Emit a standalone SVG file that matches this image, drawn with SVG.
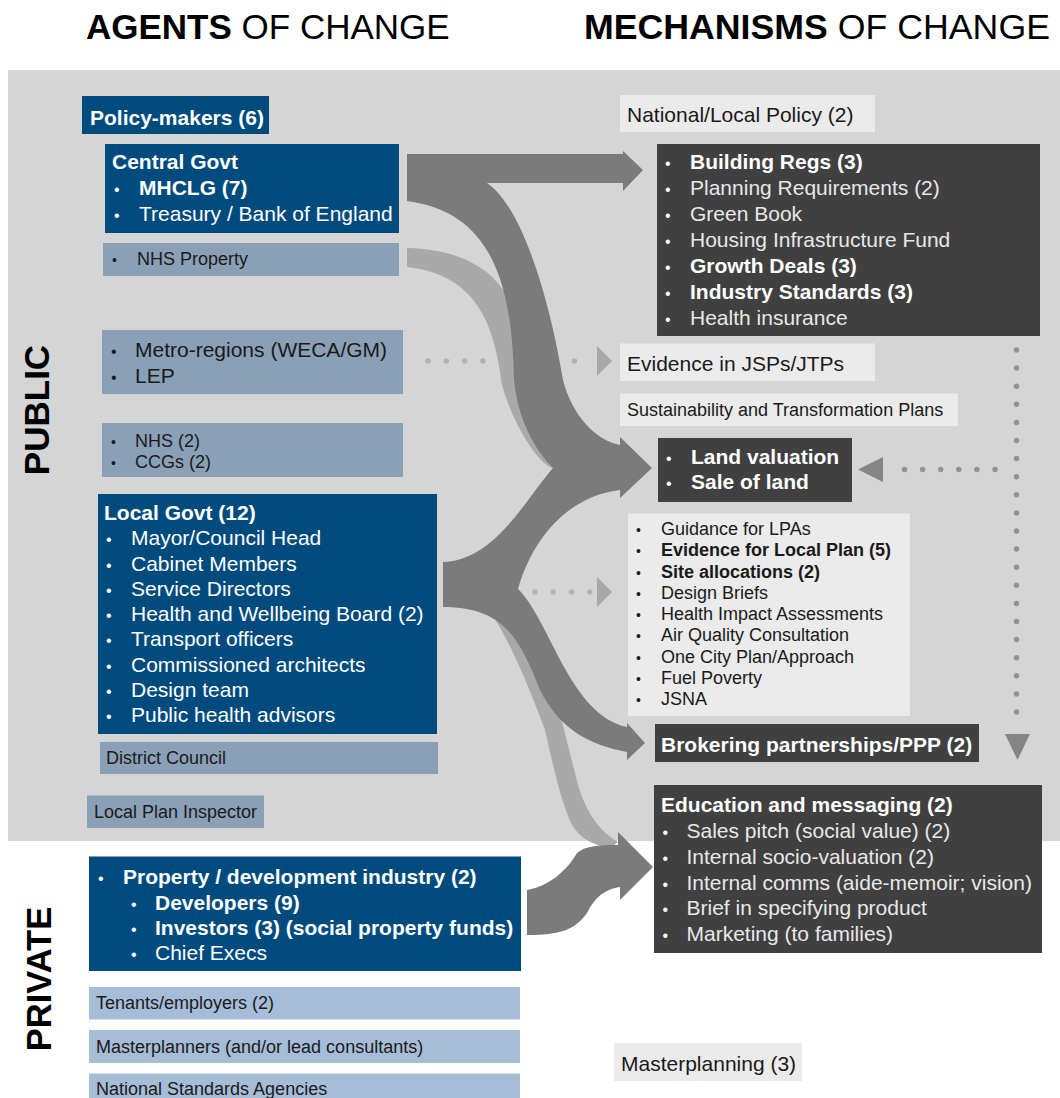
<svg xmlns="http://www.w3.org/2000/svg" width="1060" height="1098" viewBox="0 0 1060 1098">
<style>
text{font-family:"Liberation Sans",Arial,Helvetica,sans-serif}
.b{font-weight:bold}
.m{font-size:21px}
.s{font-size:18px}
.bm{font-size:16px}
.bs{font-size:14px}
.w{fill:#ffffff}
.lw{fill:#e8e8e8}
.k{fill:#1a1a1a}
.db{fill:#004b7d}
.pb{fill:#8aa0b7}
.pp{fill:#a6bdd7}
.lg{fill:#ebebeb}
.dk{fill:#404040}
.arr{fill:#7b7b7b}
.arl{fill:#a9a9a9}
.dotl{stroke:#b2b2b2;stroke-width:5.5;stroke-linecap:round;stroke-dasharray:0 18.3;fill:none}
.dotd{stroke:#939393;stroke-width:5.5;stroke-linecap:round;stroke-dasharray:0 18.1;fill:none}
.hl{fill:#a8a8a8}
.hd{fill:#858585}
</style>
<rect x="0" y="0" width="1060" height="1098" fill="#ffffff"/>
<rect x="8" y="70" width="1052" height="771" fill="#d5d5d5"/>
<text x="86" y="39" font-size="35" fill="#000"><tspan class="b">AGENTS</tspan> OF CHANGE</text>
<text x="584" y="39" font-size="35.7" fill="#000"><tspan class="b">MECHANISMS</tspan> OF CHANGE</text>
<text transform="translate(49,410) rotate(-90)" text-anchor="middle" font-size="35" class="b" fill="#000">PUBLIC</text>
<text transform="translate(51,979) rotate(-90)" text-anchor="middle" font-size="34.5" class="b" fill="#000">PRIVATE</text>

<g id="connectors">
  <line class="dotl" x1="428" y1="361" x2="590" y2="361"/>
  <polygon class="hl" points="597,346 612,361 597,376"/>
  <line class="dotl" x1="480" y1="592" x2="590" y2="592"/>
  <polygon class="hl" points="597,577 612,592 597,607"/>
  <line class="dotd" x1="1016.5" y1="350" x2="1016.5" y2="728"/>
  <polygon class="hd" points="1005,734 1030,734 1017.5,760"/>
  <line class="dotd" x1="995" y1="469.5" x2="887" y2="469.5"/>
  <polygon class="hd" points="858,469.5 883,457 883,482"/>
  <path class="arl" d="M407,248 C480,250 515,285 520,340 L560,440 L553,468 C540,465 515,430 502,385 C495,330 480,275 407,267 Z"/>
  <path class="arl" d="M490,612 C510,640 530,690 545,730 C552,760 560,800 572,825 C580,838 592,845 610,848 L618,842 C600,832 586,812 578,785 C568,745 555,690 530,610 Z"/>
  <path class="arr" d="M407,154 L623,154 L623,151 L643,170 L623,191 L623,183 L487,183 C520,205 548,290 563,380 C572,415 595,440 620,445 L620,437 L652,468 L620,498 L620,490 L575,480 L553,468 C535,450 518,420 514,380 C512,290 495,212 407,201 Z"/>
  <path class="arr" d="M443,562 C495,560 525,500 553,468 L620,470 L620,490 C575,495 535,530 518,589 C550,620 570,715 627,727 L627,723 L645,743 L627,760 L627,752 C590,745 560,730 540,690 C520,640 505,607 443,607 Z"/>
  <path class="arr" d="M527,890 C550,886 567,870 577,853 C585,846 597,845 618,845 L618,832 L653,867 L620,900 L620,887 C605,889 595,897 587,913 C575,930 560,935 527,935 Z"/>
</g>

<g id="policy-makers">
  <rect class="db" x="82" y="96" width="187" height="38"/>
  <text class="m b w" x="90" y="125">Policy-makers (6)</text>
</g>
<g id="central-govt">
  <rect class="db" x="105" y="144" width="294" height="89"/>
  <text class="m b w" x="112" y="169">Central Govt</text>
  <text class="bm w" x="114" y="195">•</text><text class="m b w" x="139" y="195">MHCLG (7)</text>
  <text class="bm w" x="114" y="221">•</text><text class="m w" x="139" y="221">Treasury / Bank of England</text>
</g>
<g id="nhs-property">
  <rect class="pb" x="103" y="243" width="296" height="33"/>
  <text class="bs k" x="112" y="265">•</text><text class="s k" x="137" y="265">NHS Property</text>
</g>
<g id="metro-regions">
  <rect class="pb" x="102" y="330" width="301" height="64"/>
  <text class="bm k" x="111" y="357">•</text><text class="m k" x="135" y="357">Metro-regions (WECA/GM)</text>
  <text class="bm k" x="111" y="383">•</text><text class="m k" x="135" y="383">LEP</text>
</g>
<g id="nhs-ccgs">
  <rect class="pb" x="102" y="423" width="301" height="54"/>
  <text class="bs k" x="111" y="447">•</text><text class="s k" x="135" y="447">NHS (2)</text>
  <text class="bs k" x="111" y="468">•</text><text class="s k" x="135" y="468">CCGs (2)</text>
</g>
<g id="local-govt">
  <rect class="db" x="98" y="494" width="339" height="240"/>
  <text class="m b w" x="104" y="520">Local Govt (12)</text>
  <text class="bm w" x="106" y="545.3">•</text><text class="m w" x="131" y="545.3">Mayor/Council Head</text>
  <text class="bm w" x="106" y="570.5">•</text><text class="m w" x="131" y="570.5">Cabinet Members</text>
  <text class="bm w" x="106" y="595.8">•</text><text class="m w" x="131" y="595.8">Service Directors</text>
  <text class="bm w" x="106" y="621">•</text><text class="m w" x="131" y="621">Health and Wellbeing Board (2)</text>
  <text class="bm w" x="106" y="646.3">•</text><text class="m w" x="131" y="646.3">Transport officers</text>
  <text class="bm w" x="106" y="671.5">•</text><text class="m w" x="131" y="671.5">Commissioned architects</text>
  <text class="bm w" x="106" y="696.8">•</text><text class="m w" x="131" y="696.8">Design team</text>
  <text class="bm w" x="106" y="722">•</text><text class="m w" x="131" y="722">Public health advisors</text>
</g>
<g id="district-council">
  <rect class="pb" x="100" y="742" width="338" height="32"/>
  <text class="s k" x="106" y="764">District Council</text>
</g>
<g id="local-plan-inspector">
  <rect class="pb" x="87" y="795.5" width="177" height="32.5"/>
  <text class="s k" x="94" y="818">Local Plan Inspector</text>
</g>
<g id="property-industry">
  <rect class="db" x="89" y="856.5" width="432" height="114.5"/>
  <text class="bm w" x="98" y="883.5">•</text><text class="m b w" x="123" y="883.5">Property / development industry (2)</text>
  <text class="bm w" x="131" y="909.5">•</text><text class="m b w" x="155" y="909.5">Developers (9)</text>
  <text class="bm w" x="131" y="935">•</text><text class="m b w" x="155" y="935">Investors (3) (social property funds)</text>
  <text class="bm w" x="131" y="960">•</text><text class="m w" x="155" y="960">Chief Execs</text>
</g>
<g id="tenants">
  <rect class="pp" x="89" y="987" width="431" height="32.5"/>
  <text class="s k" x="96" y="1009">Tenants/employers (2)</text>
</g>
<g id="masterplanners">
  <rect class="pp" x="89" y="1030" width="431" height="33"/>
  <text class="s k" x="96" y="1052.5">Masterplanners (and/or lead consultants)</text>
</g>
<g id="national-standards">
  <rect class="pp" x="89" y="1073.5" width="431" height="30"/>
  <text class="s k" x="96" y="1095">National Standards Agencies</text>
</g>

<g id="national-local-policy">
  <rect class="lg" x="620" y="95" width="255" height="37"/>
  <text class="m k" x="627" y="122">National/Local Policy (2)</text>
</g>
<g id="building-regs">
  <rect class="dk" x="657" y="144" width="383" height="192"/>
  <text class="bm w" x="665" y="169">•</text><text class="m b w" x="690" y="169">Building Regs (3)</text>
  <text class="bm w" x="665" y="195">•</text><text class="m lw" x="690" y="195">Planning Requirements (2)</text>
  <text class="bm w" x="665" y="221">•</text><text class="m lw" x="690" y="221">Green Book</text>
  <text class="bm w" x="665" y="247">•</text><text class="m lw" x="690" y="247">Housing Infrastructure Fund</text>
  <text class="bm w" x="665" y="272.5">•</text><text class="m b w" x="690" y="272.5">Growth Deals (3)</text>
  <text class="bm w" x="665" y="298.5">•</text><text class="m b w" x="690" y="298.5">Industry Standards (3)</text>
  <text class="bm w" x="665" y="324.5">•</text><text class="m lw" x="690" y="324.5">Health insurance</text>
</g>
<g id="evidence-jsps">
  <rect class="lg" x="620" y="343.5" width="255" height="37.5"/>
  <text class="m k" x="627" y="371">Evidence in JSPs/JTPs</text>
</g>
<g id="sustainability-plans">
  <rect class="lg" x="620" y="393.5" width="338" height="32.5"/>
  <text class="s k" x="627" y="416">Sustainability and Transformation Plans</text>
</g>
<g id="land-valuation">
  <rect class="dk" x="658" y="438" width="194" height="64"/>
  <text class="bm w" x="666" y="463.5">•</text><text class="m b w" x="691" y="463.5">Land valuation</text>
  <text class="bm w" x="666" y="489">•</text><text class="m b w" x="691" y="489">Sale of land</text>
</g>
<g id="guidance">
  <rect class="lg" x="628" y="513.5" width="282" height="202.5"/>
  <text class="bs k" x="636" y="535">•</text><text class="s k" x="661" y="535">Guidance for LPAs</text>
  <text class="bs k" x="636" y="556.3">•</text><text class="s b k" x="661" y="556.3">Evidence for Local Plan (5)</text>
  <text class="bs k" x="636" y="577.5">•</text><text class="s b k" x="661" y="577.5">Site allocations (2)</text>
  <text class="bs k" x="636" y="598.8">•</text><text class="s k" x="661" y="598.8">Design Briefs</text>
  <text class="bs k" x="636" y="620">•</text><text class="s k" x="661" y="620">Health Impact Assessments</text>
  <text class="bs k" x="636" y="641.3">•</text><text class="s k" x="661" y="641.3">Air Quality Consultation</text>
  <text class="bs k" x="636" y="662.5">•</text><text class="s k" x="661" y="662.5">One City Plan/Approach</text>
  <text class="bs k" x="636" y="683.8">•</text><text class="s k" x="661" y="683.8">Fuel Poverty</text>
  <text class="bs k" x="636" y="705">•</text><text class="s k" x="661" y="705">JSNA</text>
</g>
<g id="brokering">
  <rect class="dk" x="655" y="724" width="324" height="38"/>
  <text class="m b w" x="661" y="752">Brokering partnerships/PPP (2)</text>
</g>
<g id="education">
  <rect class="dk" x="654" y="785" width="388" height="168"/>
  <text class="m b w" x="661" y="812">Education and messaging (2)</text>
  <text class="bm w" x="662.5" y="837.5">•</text><text class="m lw" x="686.5" y="837.5">Sales pitch (social value) (2)</text>
  <text class="bm w" x="662.5" y="863.5">•</text><text class="m lw" x="686.5" y="863.5">Internal socio-valuation (2)</text>
  <text class="bm w" x="662.5" y="889.5">•</text><text class="m lw" x="686.5" y="889.5">Internal comms (aide-memoir; vision)</text>
  <text class="bm w" x="662.5" y="915">•</text><text class="m lw" x="686.5" y="915">Brief in specifying product</text>
  <text class="bm w" x="662.5" y="941">•</text><text class="m lw" x="686.5" y="941">Marketing (to families)</text>
</g>
<g id="masterplanning">
  <rect class="lg" x="614" y="1043" width="188" height="38"/>
  <text class="m k" x="621" y="1071">Masterplanning (3)</text>
</g>
</svg>
